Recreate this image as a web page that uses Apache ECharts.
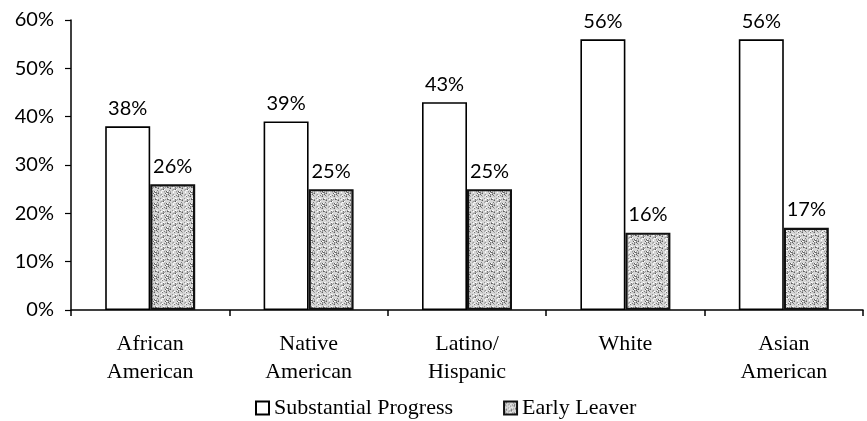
<!DOCTYPE html>
<html>
<head>
<meta charset="utf-8">
<script src="https://cdn.jsdelivr.net/npm/echarts@6/dist/echarts.min.js"></script>
<style>
  html, body { margin: 0; padding: 0; background: #fff; }
  #chart { width: 867px; height: 421px; }
</style>
</head>
<body>
<div id="chart"></div>
<script>
const categories = ['African\nAmerican', 'Native\nAmerican', 'Latino/\nHispanic', 'White', 'Asian\nAmerican'];
const substantialProgress = [38, 39, 43, 56, 56];
const earlyLeaver = [26, 25, 25, 16, 17];
const yTicks = [0, 10, 20, 30, 40, 50, 60];

// Stippled gray fill: a small tile with a fixed speckle layout
function stippleTile() {
  const size = 12;
  const c = document.createElement('canvas');
  c.width = size; c.height = size;
  const ctx = c.getContext('2d');
  ctx.fillStyle = '#d6d6d6';
  ctx.fillRect(0, 0, size, size);
  const shades = ['#7a7a7a', '#a8a8a8', '#f0f0f0', '#969696', '#ffffff', '#bcbcbc', '#5e5e5e'];
  for (let y = 0; y < size; y++) {
    for (let x = 0; x < size; x++) {
      const h = (x * 7 + y * 13 + x * y * 3) % 11;
      if (h < 5) {
        ctx.fillStyle = shades[(x * 5 + y * 3) % shades.length];
        ctx.fillRect(x, y, 1, 1);
      }
    }
  }
  return c;
}

const serif = '"Liberation Serif", "Times New Roman", serif';
const sans = 'Lato, "Noto Sans", sans-serif';
const chart = echarts.init(document.getElementById('chart'));
chart.setOption({
  animation: false,
  textStyle: { fontFamily: serif, color: '#000' },
  grid: { left: 71, right: 4, top: 20, bottom: 111, containLabel: false },
  legend: {
    left: 255,
    top: 397,
    padding: 0,
    icon: 'rect',
    itemWidth: 13,
    itemHeight: 13,
    itemGap: 50,
    textStyle: { fontFamily: serif, fontSize: 22, color: '#000' },
    data: ['Substantial Progress', 'Early Leaver']
  },
  xAxis: {
    type: 'category',
    data: categories,
    axisLine: { lineStyle: { color: '#000', width: 1.5 } },
    axisTick: { show: true, alignWithLabel: false, length: 6, lineStyle: { color: '#000', width: 1.5 } },
    axisLabel: { fontFamily: serif, fontSize: 22, color: '#000', lineHeight: 28, margin: 20 }
  },
  yAxis: {
    type: 'value',
    min: yTicks[0],
    max: yTicks[yTicks.length - 1],
    interval: 10,
    splitLine: { show: false },
    axisLine: { show: true, lineStyle: { color: '#000', width: 1.5 } },
    axisTick: { show: true, length: 6, lineStyle: { color: '#000', width: 1.2 } },
    axisLabel: { fontFamily: sans, fontSize: 20, color: '#000', margin: 17, formatter: '{value}%' }
  },
  series: [
    {
      name: 'Substantial Progress',
      type: 'bar',
      data: substantialProgress,
      barWidth: 45,
      barGap: '0%',
      itemStyle: { color: '#fff', borderColor: '#000', borderWidth: 1.6 },
      label: { show: true, position: 'top', distance: 8, formatter: '{c}%', fontFamily: sans, fontSize: 20, color: '#000' }
    },
    {
      name: 'Early Leaver',
      type: 'bar',
      data: earlyLeaver,
      barWidth: 45,
      barGap: '0%',
      itemStyle: { color: { image: stippleTile(), repeat: 'repeat' }, borderColor: '#111', borderWidth: 2.2 },
      label: { show: true, position: 'top', distance: 8, formatter: '{c}%', fontFamily: sans, fontSize: 20, color: '#000' }
    }
  ]
});
</script>
</body>
</html>
